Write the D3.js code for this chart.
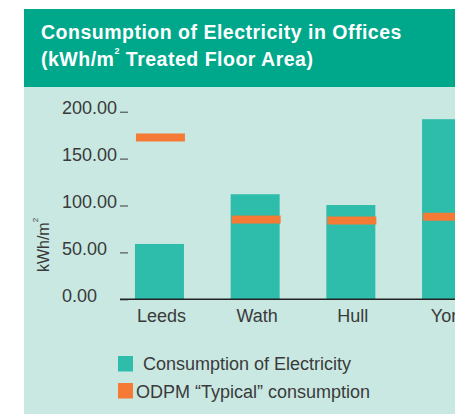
<!DOCTYPE html>
<html>
<head>
<meta charset="utf-8">
<script src="https://cdn.jsdelivr.net/npm/d3@7"></script>
<style>
  body { margin: 0; background: #fff; }
  text { font-family: "Liberation Sans", Arial, sans-serif; }
</style>
</head>
<body>
<script>
const w = 455;
const h = 414;

const sites = ['Leeds', 'Wath', 'Hull', 'York'];
const consumption = [59, 112, 100.5, 192];
const typical = [172.5, 85, 84, 88];
const yTicks = [0, 50, 100, 150, 200];
const legendLabels = ['Consumption of Electricity', 'ODPM \u201cTypical\u201d consumption'];

const teal = '#2ebcab';
const orange = '#f47a36';
const textColor = '#3a3a3a';

const svg = d3.select('body')
    .append('svg')
    .attr('width', w)
    .attr('height', h);

// panel + header
svg.append('rect')
    .attr('x', 24).attr('y', 9)
    .attr('width', w - 24).attr('height', h - 9)
    .attr('fill', '#c9e8e2');
svg.append('rect')
    .attr('x', 24).attr('y', 9)
    .attr('width', w - 24).attr('height', 78)
    .attr('fill', '#00a88b');

const title = svg.append('text')
    .attr('fill', '#fff')
    .attr('font-size', 19.5)
    .attr('letter-spacing', 0.5)
    .attr('font-weight', 'bold');
title.append('tspan').attr('x', 41).attr('y', 39).text('Consumption of Electricity in Offices');
const t2 = title.append('tspan').attr('x', 41).attr('y', 66);
t2.append('tspan').text('(kWh/m');
t2.append('tspan').attr('font-size', 9).attr('dy', -12).text('2');
t2.append('tspan').attr('dy', 12).text(' Treated Floor Area)');

const xScale = d3.scaleBand()
    .domain(sites)
    .range([111.6, 494.4])
    .paddingInner(0.488)
    .paddingOuter(0.244);

const yScale = d3.scaleLinear()
    .domain([0, 200])
    .range([299.3, 111.7]);

// y axis
const yAxis = d3.axisLeft(yScale)
    .tickValues(yTicks)
    .tickSize(8)
    .tickFormat(d3.format('.2f'));

const gy = svg.append('g')
    .attr('transform', 'translate(128, 0)')
    .call(yAxis);
gy.select('.domain').remove();
gy.selectAll('.tick line').attr('stroke', textColor);
gy.selectAll('.tick text')
    .attr('x', -66)
    .attr('dy', '0.1em')
    .attr('text-anchor', 'start')
    .attr('font-size', 18)
    .attr('font-family', '"Liberation Sans", Arial, sans-serif')
    .attr('fill', textColor);

// y label
const yLabel = svg.append('text')
    .attr('transform', 'translate(49, 245) rotate(-90)')
    .attr('text-anchor', 'middle')
    .attr('font-size', 16)
    .attr('fill', textColor);
yLabel.append('tspan').text('kWh/m');
yLabel.append('tspan').attr('font-size', 8).attr('dy', -11).text('2');

// bars
svg.selectAll('rect.bar')
    .data(consumption)
    .enter()
    .append('rect')
    .attr('class', 'bar')
    .attr('x', (d, i) => xScale(sites[i]))
    .attr('y', (d) => yScale(d))
    .attr('width', xScale.bandwidth())
    .attr('height', (d) => yScale(0) - yScale(d))
    .attr('fill', teal);

// typical markers
svg.selectAll('rect.typical')
    .data(typical)
    .enter()
    .append('rect')
    .attr('class', 'typical')
    .attr('x', (d, i) => xScale(sites[i]) + 1)
    .attr('y', (d) => yScale(d) - 4)
    .attr('width', xScale.bandwidth())
    .attr('height', 8)
    .attr('fill', orange);

// baseline
svg.append('line')
    .attr('x1', 120).attr('x2', w)
    .attr('y1', yScale(0)).attr('y2', yScale(0))
    .attr('stroke', '#222')
    .attr('stroke-width', 1.5);

// x labels
svg.selectAll('text.site')
    .data(sites)
    .enter()
    .append('text')
    .attr('class', 'site')
    .attr('x', (d) => xScale(d) + xScale.bandwidth() / 2 + 2)
    .attr('y', 322)
    .attr('text-anchor', 'middle')
    .attr('font-size', 18)
    .attr('fill', textColor)
    .text((d) => d);

// legend
const legend = svg.append('g');
[teal, orange].forEach((c, i) => {
    legend.append('rect')
        .attr('x', 118).attr('y', 356 + i * 27)
        .attr('width', 15).attr('height', 15.5)
        .attr('fill', c);
    legend.append('text')
        .attr('x', i === 0 ? 143 : 136)
        .attr('y', 370 + i * 28)
        .attr('font-size', 18)
        .attr('fill', textColor)
        .text(legendLabels[i]);
});
</script>
</body>
</html>
